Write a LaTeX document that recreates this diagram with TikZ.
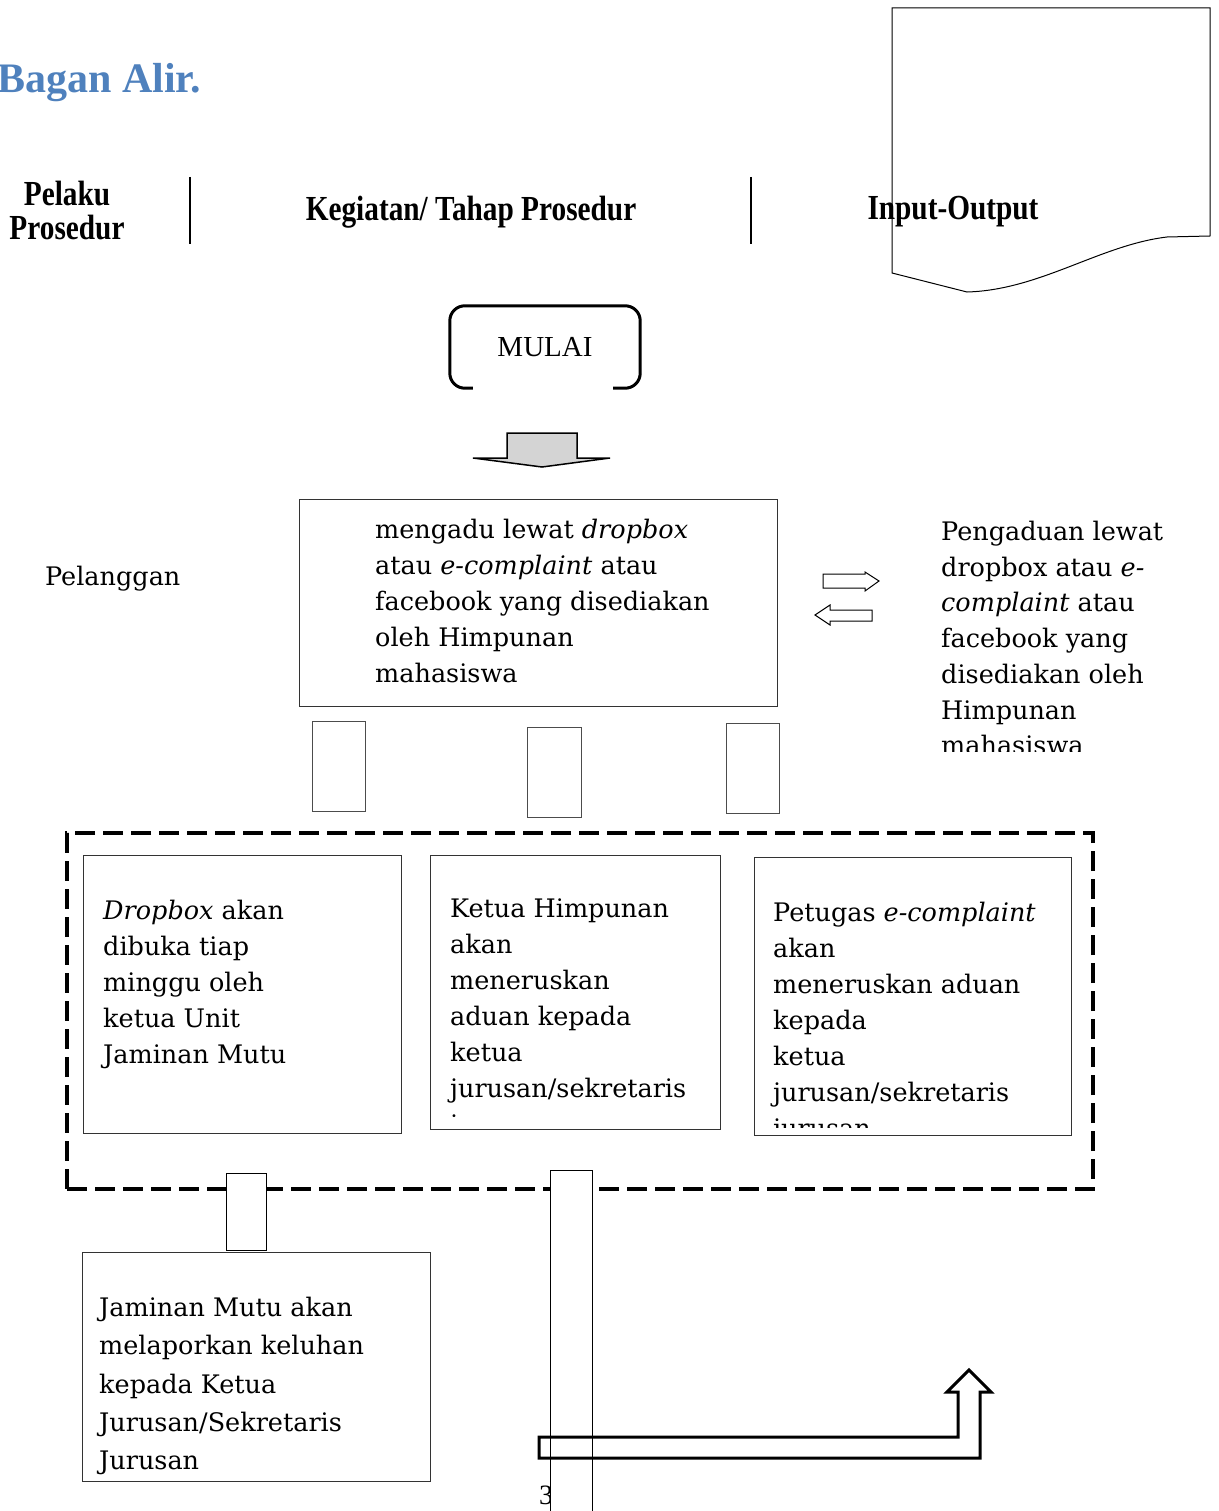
\documentclass[tikz,border=0pt]{standalone}
\usepackage{fontspec}
\setmainfont{DejaVu Serif}
\newfontfamily\judulfont{Liberation Serif}
\usepackage{tikz}
\definecolor{biru}{RGB}{79,129,189}
\newcommand{\tegak}[1]{\scalebox{1}[1.2]{#1}}

\begin{document}
\begin{tikzpicture}[x=1pt, y=-1pt, line join=miter]
    \tikzstyle{kotak}=[draw=black!80, line width=1.3pt, inner sep=0pt, anchor=north west]
    \tikzstyle{sambung}=[draw=black!70, fill=white, line width=1.3pt, inner sep=0pt, anchor=north west]
    \tikzstyle{teks}=[inner sep=0pt, anchor=north west, align=left, font=\fontsize{25.5}{36}\selectfont]
    \tikzstyle{kepala}=[inner sep=0pt, align=center, font=\judulfont\bfseries\fontsize{29.3}{34}\selectfont]

    \useasboundingbox (0,0) rectangle (1218,1511);

    % Judul dan kepala kolom
    \node[anchor=base west, inner sep=0pt, text=biru, font=\judulfont\bfseries\fontsize{42}{48}\selectfont] (judul) at (-3,93) {Bagan Alir.};
    \node[kepala] (pelaku) at (67,211) {\tegak{Pelaku}\\\tegak{Prosedur}};
    \node[kepala] (kegiatan) at (471,212) {\tegak{Kegiatan/ Tahap Prosedur}};
    \draw[line width=1.3pt] (190,177) -- (190,244);
    \draw[line width=1.3pt] (751,177) -- (751,244);

    % Dokumen input-output
    \draw[line width=1pt] (892,8) -- (1210,8) -- (1210,236) -- (1167,237)
        .. controls (1100,245) and (1040,290) .. (967,292) -- (892,273) -- cycle;
    \node[kepala] (inout) at (953,212) {\tegak{Input-Output}};

    % Mulai
    \node[inner sep=0pt, minimum width=190, minimum height=82, font=\judulfont\fontsize{29}{34}\selectfont] (mulai) at (545,347) {MULAI};
    \draw[line width=3pt, rounded corners=15] ([xshift=23]mulai.south west) -- (mulai.south west) -- (mulai.north west)
        -- (mulai.north east) -- (mulai.south east) -- ([xshift=-27]mulai.south east);
    \draw[line width=1.5pt, fill=black!17] (507,433) -- (577,433) -- (577,458) -- (610,458) -- (542,467)
        -- (473,458) -- (507,458) -- cycle;

    % Pelanggan
    \node[teks, anchor=base west] (pelanggan) at (45,585) {Pelanggan};
    \node[kotak, minimum width=478, minimum height=207] (kotak1) at (299,499) {};
    \node[teks] (isi1) at (375,519) {mengadu lewat \textit{dropbox}\\atau \textit{e-complaint} atau\\facebook yang disediakan\\oleh Himpunan\\mahasiswa};

    % Panah kecil
    \draw[line width=1pt] (823,574) -- (865,574) -- (865,572) -- (879,581) -- (865,591) -- (865,588) -- (823,588) -- cycle;
    \draw[line width=1pt] (872,610) -- (830,610) -- (830,605) -- (815,615) -- (830,625) -- (830,621) -- (872,621) -- cycle;

    \begin{scope}
        \clip (930,500) rectangle (1218,751);
        \node[teks, font=\fontsize{25.5}{35.7}\selectfont] (keluaran) at (941,521) {Pengaduan lewat\\dropbox atau \textit{e-}\\\textit{complaint} atau\\facebook yang\\disediakan oleh\\Himpunan\\mahasiswa};
    \end{scope}

    % Penghubung atas
    \node[sambung, minimum width=53, minimum height=90] (s1) at (312,721) {};
    \node[sambung, minimum width=54, minimum height=90] (s2) at (527,727) {};
    \node[sambung, minimum width=53, minimum height=90] (s3) at (726,723) {};

    % Kelompok tindak lanjut
    \node[draw, line width=4pt, dash pattern=on 20pt off 8pt, inner sep=0pt, anchor=north west,
        minimum width=1026, minimum height=356] (kelompok) at (65,831) {};

    \node[kotak, minimum width=318, minimum height=278] (kotakA) at (83,855) {};
    \node[teks] (isiA) at (103,900) {\textit{Dropbox} akan\\dibuka tiap\\minggu oleh\\ketua Unit\\Jaminan Mutu};

    \node[kotak, minimum width=290, minimum height=274] (kotakB) at (430,855) {};
    \begin{scope}
        \clip (432,857) rectangle (718,1117);
        \node[teks] (isiB) at (450,899) {Ketua Himpunan\\akan\\meneruskan\\aduan kepada\\ketua\\jurusan/sekretaris\\jurusan};
    \end{scope}

    \node[kotak, minimum width=317, minimum height=278] (kotakC) at (754,857) {};
    \begin{scope}
        \clip (756,859) rectangle (1069,1127);
        \node[teks] (isiC) at (773,902) {Petugas \textit{e-complaint}\\akan\\meneruskan aduan\\kepada\\ketua\\jurusan/sekretaris\\jurusan};
    \end{scope}

    % Bawah
    \node[anchor=base west, inner sep=0pt, font=\judulfont\fontsize{28}{32}\selectfont] (hal) at (539,1504) {3};
    \node[sambung, draw=black, line width=1pt, minimum width=40, minimum height=77] (s4) at (226,1173) {};
    \node[sambung, draw=black, line width=1pt, minimum width=42, minimum height=360] (s5) at (550,1170) {};

    \node[kotak, minimum width=348, minimum height=229] (kotakD) at (82,1252) {};
    \node[teks, font=\fontsize{25.5}{38.3}\selectfont] (isiD) at (99,1297) {Jaminan Mutu akan\\melaporkan keluhan\\kepada Ketua\\Jurusan/Sekretaris\\Jurusan};

    \draw[line width=3pt] (539,1437) -- (958,1437) -- (958,1392) -- (947,1392) -- (969,1370) -- (991,1392)
        -- (980,1392) -- (980,1458) -- (539,1458) -- cycle;
\end{tikzpicture}
\end{document}
